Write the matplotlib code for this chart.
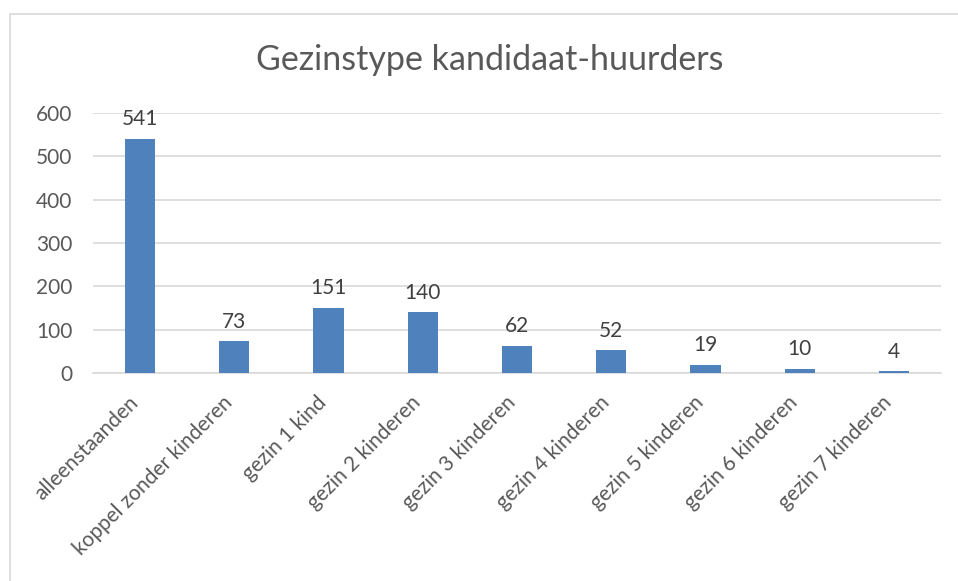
import matplotlib.pyplot as plt
from matplotlib.patches import Rectangle
from matplotlib.transforms import ScaledTranslation

categories = ['alleenstaanden', 'koppel zonder kinderen', 'gezin 1 kind', 'gezin 2 kinderen',
              'gezin 3 kinderen', 'gezin 4 kinderen', 'gezin 5 kinderen', 'gezin 6 kinderen',
              'gezin 7 kinderen']
values = [541, 73, 151, 140, 62, 52, 19, 10, 4]
yticks = [0, 100, 200, 300, 400, 500, 600]

text_color = '#595959'
plt.rcParams['font.family'] = ['Lato', 'DejaVu Sans']

fig = plt.figure(figsize=(9.58, 5.81), dpi=100)
ax = fig.add_axes([93 / 958, 1 - 373 / 581, 848 / 958, 260 / 581])

# chart border like in Excel
fig.patches.append(Rectangle((10 / 958, -0.1), 1.0, 1 - 14 / 581 + 0.1, transform=fig.transFigure,
                             fill=False, edgecolor='#D9D9D9', linewidth=1.2))

x = range(len(categories))
bars = ax.bar(x, values, width=0.32, color='#4F81BD', zorder=3)
for rect, v in zip(bars, values):
    ax.annotate(str(v), (rect.get_x() + rect.get_width() / 2, v), xytext=(0, 7),
                textcoords='offset points', ha='center', va='bottom',
                fontsize=15, color='#404040')

ax.set_xlim(-0.5, len(categories) - 0.5)
ax.set_ylim(0, 600)
ax.set_yticks(yticks)
ax.yaxis.grid(True, color='#D9D9D9', linewidth=1.2, zorder=0)
ax.tick_params(axis='both', length=0, labelsize=15, colors=text_color)
ax.tick_params(axis='y', pad=15)
ax.set_xticks(list(x))
ax.set_xticklabels(categories, rotation=45, ha='right', va='top', rotation_mode='anchor')
ax.tick_params(axis='x', pad=8)
shift = ScaledTranslation(-12 / 100, -8 / 100, fig.dpi_scale_trans)
for lbl in ax.get_xticklabels():
    lbl.set_transform(lbl.get_transform() + shift)
for s in ['left', 'right', 'top']:
    ax.spines[s].set_visible(False)
ax.spines['bottom'].set_color('#D9D9D9')
ax.spines['bottom'].set_linewidth(1.2)

fig.text(490 / 958, 1 - 60 / 581, 'Gezinstype kandidaat-huurders', ha='center', va='center',
         fontsize=24.5, color=text_color)

fig.savefig('out.png', dpi=100)
